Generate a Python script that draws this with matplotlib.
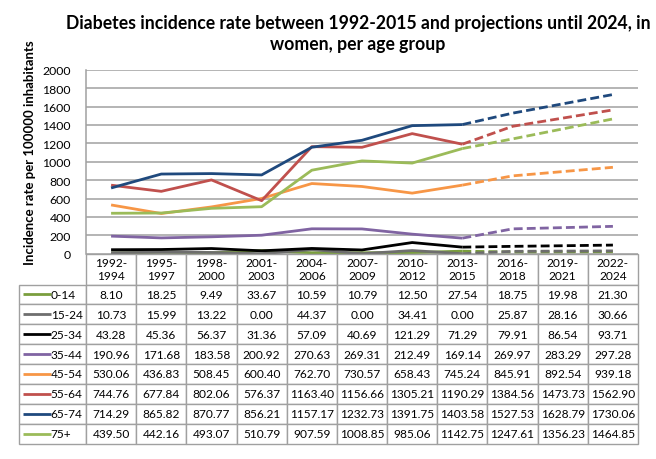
import matplotlib
matplotlib.use("Agg")
import numpy as np
import matplotlib.pyplot as plt
from matplotlib.table import Table

plt.rcParams['font.family'] = ['Lato', 'DejaVu Sans']

periods = ["1992-\n1994", "1995-\n1997", "1998-\n2000", "2001-\n2003", "2004-\n2006",
           "2007-\n2009", "2010-\n2012", "2013-\n2015", "2016-\n2018", "2019-\n2021",
           "2022-\n2024"]
groups = ["0-14", "15-24", "25-34", "35-44", "45-54", "55-64", "65-74", "75+"]

v_0_14 = [8.10, 18.25, 9.49, 33.67, 10.59, 10.79, 12.50, 27.54, 18.75, 19.98, 21.30]
v_15_24 = [10.73, 15.99, 13.22, 0.00, 44.37, 0.00, 34.41, 0.00, 25.87, 28.16, 30.66]
v_25_34 = [43.28, 45.36, 56.37, 31.36, 57.09, 40.69, 121.29, 71.29, 79.91, 86.54, 93.71]
v_35_44 = [190.96, 171.68, 183.58, 200.92, 270.63, 269.31, 212.49, 169.14, 269.97, 283.29, 297.28]
v_45_54 = [530.06, 436.83, 508.45, 600.40, 762.70, 730.57, 658.43, 745.24, 845.91, 892.54, 939.18]
v_55_64 = [744.76, 677.84, 802.06, 576.37, 1163.40, 1156.66, 1305.21, 1190.29, 1384.56, 1473.73, 1562.90]
v_65_74 = [714.29, 865.82, 870.77, 856.21, 1157.17, 1232.73, 1391.75, 1403.58, 1527.53, 1628.79, 1730.06]
v_75 = [439.50, 442.16, 493.07, 510.79, 907.59, 1008.85, 985.06, 1142.75, 1247.61, 1356.23, 1464.85]

values = [v_0_14, v_15_24, v_25_34, v_35_44, v_45_54, v_55_64, v_65_74, v_75]
colors = ["#7A9E3D", "#6E6E6E", "#000000", "#8064A2", "#F79646", "#C0504D", "#1F497D", "#9BBB59"]
last_observed = 7  # 2013-2015, projections after

W, H = 656, 460
fig = plt.figure(figsize=(W / 100, H / 100), dpi=100)

# plot area in pixels
pl, pr, pt, pb = 86, 638, 70.7, 254.7
ax = fig.add_axes([pl / W, 1 - pb / H, (pr - pl) / W, (pb - pt) / H])

x = np.arange(len(periods))
for vals, col in zip(values, colors):
    vals = np.array(vals)
    ax.plot(x[:last_observed + 1], vals[:last_observed + 1], color=col, lw=2,
            solid_capstyle='butt', zorder=3)
    ax.plot(x[last_observed:], vals[last_observed:], color=col, lw=2,
            dashes=(3.2, 1.5), dash_capstyle='butt', zorder=3)

ax.set_xlim(-0.5, len(periods) - 0.5)
ax.set_ylim(0, 2000)
ax.set_yticks(np.arange(0, 2001, 200))
ax.set_xticks([])
ax.tick_params(axis='y', length=0, labelsize=8.8, pad=11)
ax.grid(axis='y', color='#A0A0A0', lw=1.1)
ax.set_axisbelow(True)
for s in ['top', 'right', 'bottom']:
    ax.spines[s].set_visible(False)
ax.spines['left'].set_color('#A0A0A0')
ax.spines['left'].set_linewidth(1.1)

fig.text(358 / W, 1 - 34 / H,
         "Diabetes incidence rate between 1992-2015 and projections until 2024, in\nwomen, per age group",
         ha='center', va='center', fontsize=12.7, fontweight='bold', linespacing=1.3)
fig.text(30 / W, 1 - 153 / H, "Incidence rate per 100000 inhabitants",
         rotation=90, ha='center', va='center', fontsize=9.5, fontweight='bold')

# data table
tl, tr, tt, tb = 19.3, 638, 254.5, 444.5
ax_t = fig.add_axes([tl / W, 1 - tb / H, (tr - tl) / W, (tb - tt) / H])
ax_t.set_axis_off()
ax_t.set_xlim(0, 1)
ax_t.set_ylim(0, 1)

label_w = pl - tl
col_w = (pr - pl) / len(periods)
head_h = 31
row_h = (tb - tt - head_h) / len(groups)

table = Table(ax_t, bbox=[0, 0, 1, 1])
for j, p in enumerate(periods):
    c = table.add_cell(0, j + 1, col_w, head_h, text=p, loc='center')
    c.set_edgecolor('#A0A0A0')
    c.get_text().set_linespacing(1.25)
for i, g in enumerate(groups):
    c = table.add_cell(i + 1, 0, label_w, row_h, text=g, loc='left')
    c.set_edgecolor('#A0A0A0')
    c.PAD = 31.5 / label_w
    for j in range(len(periods)):
        c = table.add_cell(i + 1, j + 1, col_w, row_h, text=f"{values[i][j]:.2f}", loc='center')
        c.set_edgecolor('#A0A0A0')
table.auto_set_font_size(False)
table.set_fontsize(8.6)
ax_t.add_table(table)

# legend swatches in the row label column
total_h = tb - tt
for i, col in enumerate(colors):
    yc = 1 - (head_h + (i + 0.5) * row_h) / total_h
    ax_t.plot([(22.5 - tl) / (tr - tl), (50.5 - tl) / (tr - tl)], [yc, yc],
              color=col, lw=2, solid_capstyle='butt', zorder=5)

fig.savefig("out.png", dpi=100)
